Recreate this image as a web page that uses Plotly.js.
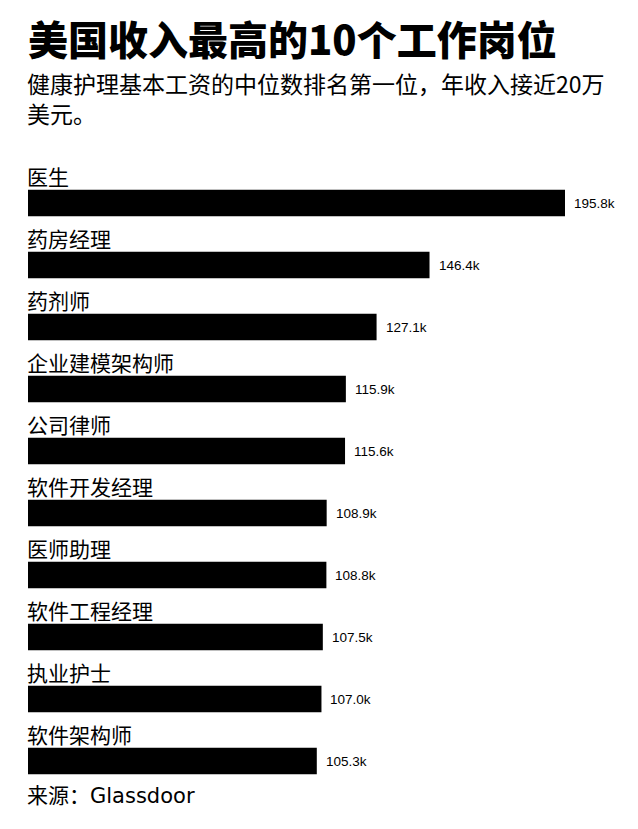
<!DOCTYPE html>
<html>
<head>
<meta charset="utf-8">
<script src="https://cdn.plot.ly/plotly-3.0.1.min.js"></script>
<style>
  html, body { margin: 0; padding: 0; background: #fff; }
  #vis { width: 638px; height: 829px; }
</style>
</head>
<body>
<div id="vis"></div>
<script>
// 工作岗位 and 基本工资中位数 (千美元)
const jobs = ['医生', '药房经理', '药剂师', '企业建模架构师', '公司律师',
  '软件开发经理', '医师助理', '软件工程经理', '执业护士', '软件架构师']
const salaries = [195.8, 146.4, 127.1, 115.9, 115.6, 108.9, 108.8, 107.5, 107.0, 105.3]
const valueLabels = ['195.8k', '146.4k', '127.1k', '115.9k', '115.6k',
  '108.9k', '108.8k', '107.5k', '107.0k', '105.3k']

const titleText = '美国收入最高的10个工作岗位'
const subtitleText = '健康护理基本工资的中位数排名第一位，年收入接近20万<br>美元。'
const sourceText = '来源：Glassdoor'

const cjk = '"Noto Sans CJK SC", "Noto Sans", sans-serif'

var trace1 = {
  type: 'bar',
  orientation: 'h',
  x: salaries,
  y: jobs,
  width: 0.43,
  marker: { color: '#000000' },
  hoverinfo: 'skip'
};

// label above each bar
const labelNotes = jobs.map(job => ({
  x: 0, y: job, xref: 'x', yref: 'y',
  text: job, showarrow: false,
  xanchor: 'left', yanchor: 'middle',
  xshift: -3, yshift: 27,
  font: { family: cjk, size: 21, color: '#000' }
}))

// value right of each bar
const valueNotes = jobs.map((job, i) => ({
  x: salaries[i], y: job, xref: 'x', yref: 'y',
  text: valueLabels[i], showarrow: false,
  xanchor: 'left', yanchor: 'middle',
  xshift: 7, yshift: 0,
  font: { family: '"Liberation Sans", Arial, sans-serif', size: 13.5, color: '#000' }
}))

var layout = {
  width: 638,
  height: 829,
  margin: { l: 28, r: 8, t: 172, b: 24 },
  paper_bgcolor: '#fff',
  plot_bgcolor: '#fff',
  showlegend: false,
  title: {
    text: titleText,
    font: { family: cjk, size: 40, color: '#000', weight: 900 },
    x: 28 / 638, xanchor: 'left',
    y: 1 - 41 / 829, yanchor: 'middle'
  },
  xaxis: {
    range: [0, 195.8 * 602 / 537],
    showgrid: false, zeroline: false, showticklabels: false, showline: false
  },
  yaxis: {
    autorange: 'reversed',
    showgrid: false, zeroline: false, showticklabels: false, showline: false
  },
  annotations: labelNotes.concat(valueNotes, [
    {
      x: 0, y: 1, xref: 'paper', yref: 'paper',
      text: subtitleText, showarrow: false, align: 'left',
      xanchor: 'left', yanchor: 'middle', xshift: -3, yshift: 74,
      font: { family: cjk, size: 23, color: '#000' }
    },
    {
      x: 0, y: 0, xref: 'paper', yref: 'paper',
      text: sourceText, showarrow: false,
      xanchor: 'left', yanchor: 'middle', xshift: -3, yshift: 9,
      font: { family: '"DejaVu Sans", "Noto Sans CJK SC", sans-serif', size: 21, color: '#000' }
    }
  ])
};

Plotly.newPlot('vis', [trace1], layout, { displayModeBar: false, staticPlot: true });
</script>
</body>
</html>
